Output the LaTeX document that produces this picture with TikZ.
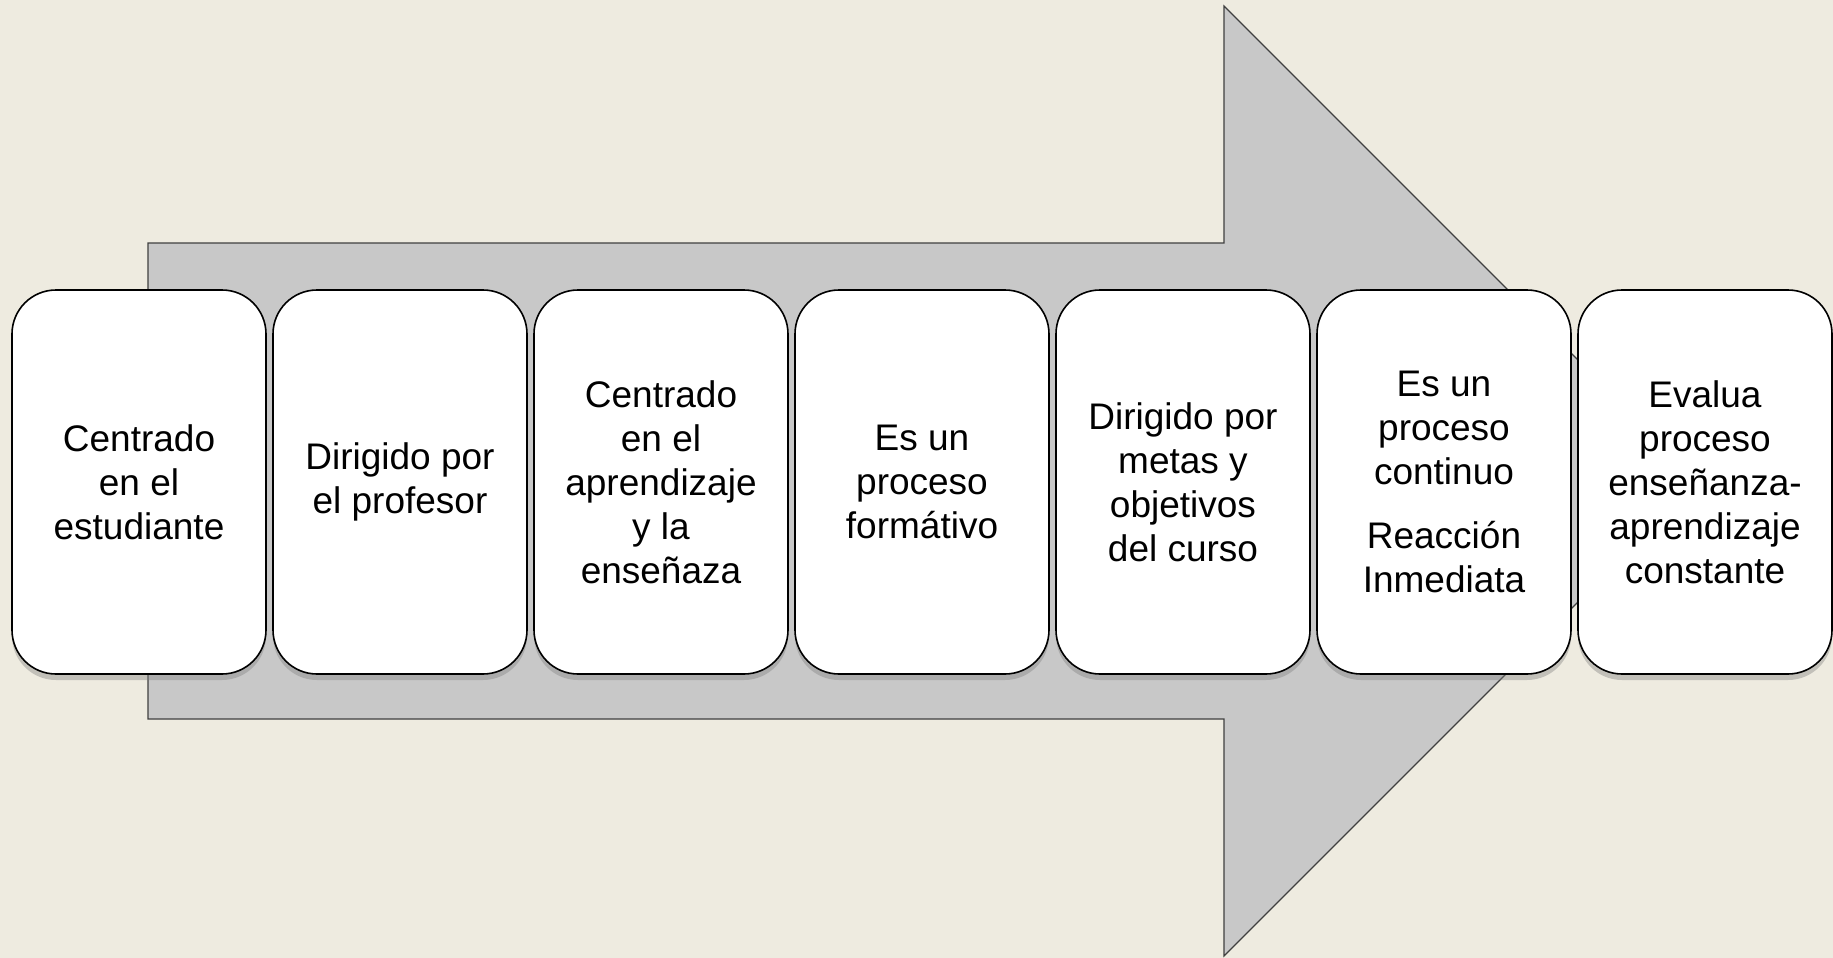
\documentclass[tikz,border=0pt]{standalone}
\usepackage{fontspec}
\setmainfont{Liberation Sans}
\usetikzlibrary{shapes,positioning,shadows}

\definecolor{bgbeige}{HTML}{EEEBE0}
\definecolor{arrowgray}{HTML}{C8C8C8}

\tikzset{
    card/.style={draw=black, line width=0.8pt, fill=white, rectangle, rounded corners=22pt,
        minimum width=127pt, minimum height=192pt, align=center,
        font=\fontsize{18.5}{22}\selectfont,
        drop shadow={shadow xshift=0pt, shadow yshift=-3pt, opacity=0.4}},
    bigarrow/.style={fill=arrowgray, draw=black!75, line width=0.6pt}
}

\begin{document}
\begin{tikzpicture}[x=0.5pt,y=-0.5pt]
    \fill[bgbeige] (0,0) rectangle (1833,958);
    \useasboundingbox (0,0) rectangle (1833,958);
    % big arrow behind the cards
    \draw[bigarrow] (148,243) -- (1224,243) -- (1224,6) -- (1699,481)
        -- (1224,956) -- (1224,719) -- (148,719) -- cycle;
    \node[card] (estudiante) at (139,482) {Centrado\\en el\\estudiante};
    \node[card] (profesor) at (400,482) {Dirigido por\\el profesor};
    \node[card] (aprendizaje) at (661,482) {Centrado\\en el\\aprendizaje\\y la\\enseñaza};
    \node[card] (formativo) at (922,482) {Es un\\proceso\\formátivo};
    \node[card] (metas) at (1183,482) {Dirigido por\\metas y\\objetivos\\del curso};
    \node[card] (continuo) at (1444,482) {Es un\\proceso\\continuo\\[10pt]Reacción\\Inmediata};
    \node[card] (evalua) at (1705,482) {Evalua\\proceso\\enseñanza-\\aprendizaje\\constante};
\end{tikzpicture}
\end{document}
